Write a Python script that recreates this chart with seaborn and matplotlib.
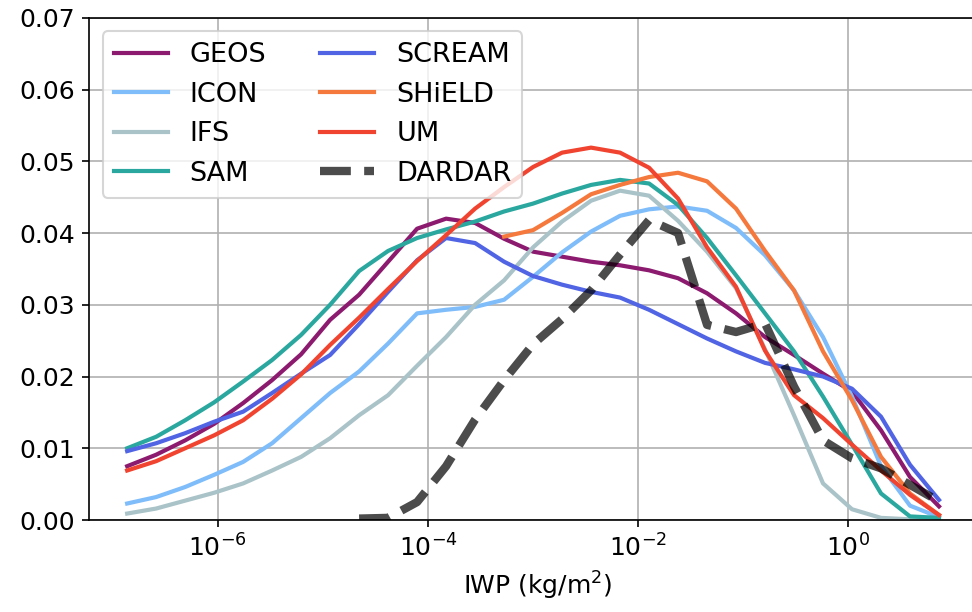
import numpy as np
import matplotlib
matplotlib.use("Agg")
import matplotlib.pyplot as plt
import matplotlib.ticker as mticker
import seaborn as sns

nan = np.nan

# IWP histogram bins: 29 log-spaced bins between 1e-7 and 1e1 kg/m2
bin_edges = np.logspace(-7, 1, 30)
iwp = np.sqrt(bin_edges[:-1] * bin_edges[1:])

geos = [0.0075, 0.0091, 0.0111, 0.0134, 0.0163, 0.0195, 0.0231, 0.0279, 0.0314, 0.0360,
        0.0406, 0.0420, 0.0414, 0.0392, 0.0374, 0.0367, 0.0360, 0.0355, 0.0348, 0.0337,
        0.0316, 0.0288, 0.0255, 0.0230, 0.0204, 0.0179, 0.0125, 0.0060, 0.0019]
icon = [0.0023, 0.0032, 0.0046, 0.0063, 0.0081, 0.0107, 0.0142, 0.0177, 0.0207, 0.0246,
        0.0288, 0.0293, 0.0297, 0.0307, 0.0339, 0.0373, 0.0402, 0.0424, 0.0433, 0.0437,
        0.0431, 0.0407, 0.0369, 0.0320, 0.0255, 0.0172, 0.0075, 0.0020, 0.0004]
ifs = [0.0009, 0.0016, 0.0027, 0.0038, 0.0051, 0.0069, 0.0088, 0.0114, 0.0146, 0.0174,
       0.0215, 0.0255, 0.0300, 0.0334, 0.0380, 0.0416, 0.0445, 0.0459, 0.0452, 0.0417,
       0.0374, 0.0323, 0.0238, 0.0146, 0.0051, 0.0015, 0.0003, 0.0001, 0.0000]
sam = [0.0100, 0.0116, 0.0139, 0.0164, 0.0193, 0.0223, 0.0258, 0.0300, 0.0347, 0.0375,
       0.0393, 0.0405, 0.0416, 0.0430, 0.0441, 0.0455, 0.0467, 0.0474, 0.0469, 0.0439,
       0.0393, 0.0341, 0.0288, 0.0235, 0.0172, 0.0105, 0.0037, 0.0005, 0.0003]
scream = [0.0096, 0.0107, 0.0121, 0.0137, 0.0151, 0.0177, 0.0204, 0.0230, 0.0273, 0.0318,
          0.0362, 0.0393, 0.0386, 0.0360, 0.0340, 0.0328, 0.0318, 0.0310, 0.0293, 0.0273,
          0.0253, 0.0235, 0.0219, 0.0210, 0.0200, 0.0183, 0.0144, 0.0077, 0.0028]
shield = [nan, nan, nan, nan, nan, nan, nan, nan, nan, nan,
          nan, nan, nan, 0.0395, 0.0404, 0.0428, 0.0454, 0.0467, 0.0478, 0.0484,
          0.0472, 0.0434, 0.0375, 0.0320, 0.0235, 0.0167, 0.0088, 0.0037, 0.0007]
um = [0.0069, 0.0082, 0.0100, 0.0118, 0.0139, 0.0169, 0.0203, 0.0244, 0.0282, 0.0322,
      0.0361, 0.0397, 0.0434, 0.0464, 0.0492, 0.0512, 0.0519, 0.0512, 0.0491, 0.0448,
      0.0380, 0.0325, 0.0236, 0.0174, 0.0142, 0.0105, 0.0069, 0.0035, 0.0007]
dardar = [nan, nan, nan, nan, nan, nan, nan, nan, 0.0002, 0.0003,
          0.0025, 0.0075, 0.0140, 0.0195, 0.0245, 0.0280, 0.0320, 0.0370, 0.0418, 0.0400,
          0.0272, 0.0262, 0.0274, 0.0186, 0.0111, 0.0086, 0.0072, 0.0049, 0.0026]

models = ["GEOS", "ICON", "IFS", "SAM", "SCREAM", "SHiELD", "UM"]
model_values = [geos, icon, ifs, sam, scream, shield, um]
model_colors = ["#8c1a6e", "#7fbcfa", "#a9c3c8", "#2aa79e",
                "#5064e4", "#f5783c", "#f04430"]

plt.rcParams["font.family"] = ["DejaVu Sans"]
plt.rcParams["font.size"] = 12

fig = plt.figure(figsize=(6.48, 4.08), dpi=150)
# the axes run past the right edge of the canvas
ax = fig.add_axes([0.0919, 0.1503, 0.9215, 0.8207])

for name, vals, col in zip(models, model_values, model_colors):
    sns.lineplot(x=iwp, y=vals, ax=ax, color=col, lw=2, label=name)

sns.lineplot(x=iwp, y=dardar, ax=ax, color="k", lw=4, alpha=0.7,
             linestyle="--", label="DARDAR")

ax.set_xscale("log")
ax.set_xlim(10 ** -7.222, 10 ** 1.30)
ax.set_ylim(0, 0.07)
ax.yaxis.set_major_locator(mticker.MultipleLocator(0.01))
ax.yaxis.set_major_formatter(mticker.FormatStrFormatter("%.2f"))
ax.xaxis.set_major_locator(mticker.FixedLocator([1e-6, 1e-4, 1e-2, 1e0]))
ax.xaxis.set_minor_locator(mticker.NullLocator())
ax.grid(True, color="#b0b0b0", lw=0.8)
ax.set_axisbelow(True)
ax.set_xlabel("IWP (kg/m$^2$)")
ax.set_ylabel("")
ax.legend(loc="upper left", ncol=2, fontsize=13)

fig.savefig("out.png", dpi=150)
